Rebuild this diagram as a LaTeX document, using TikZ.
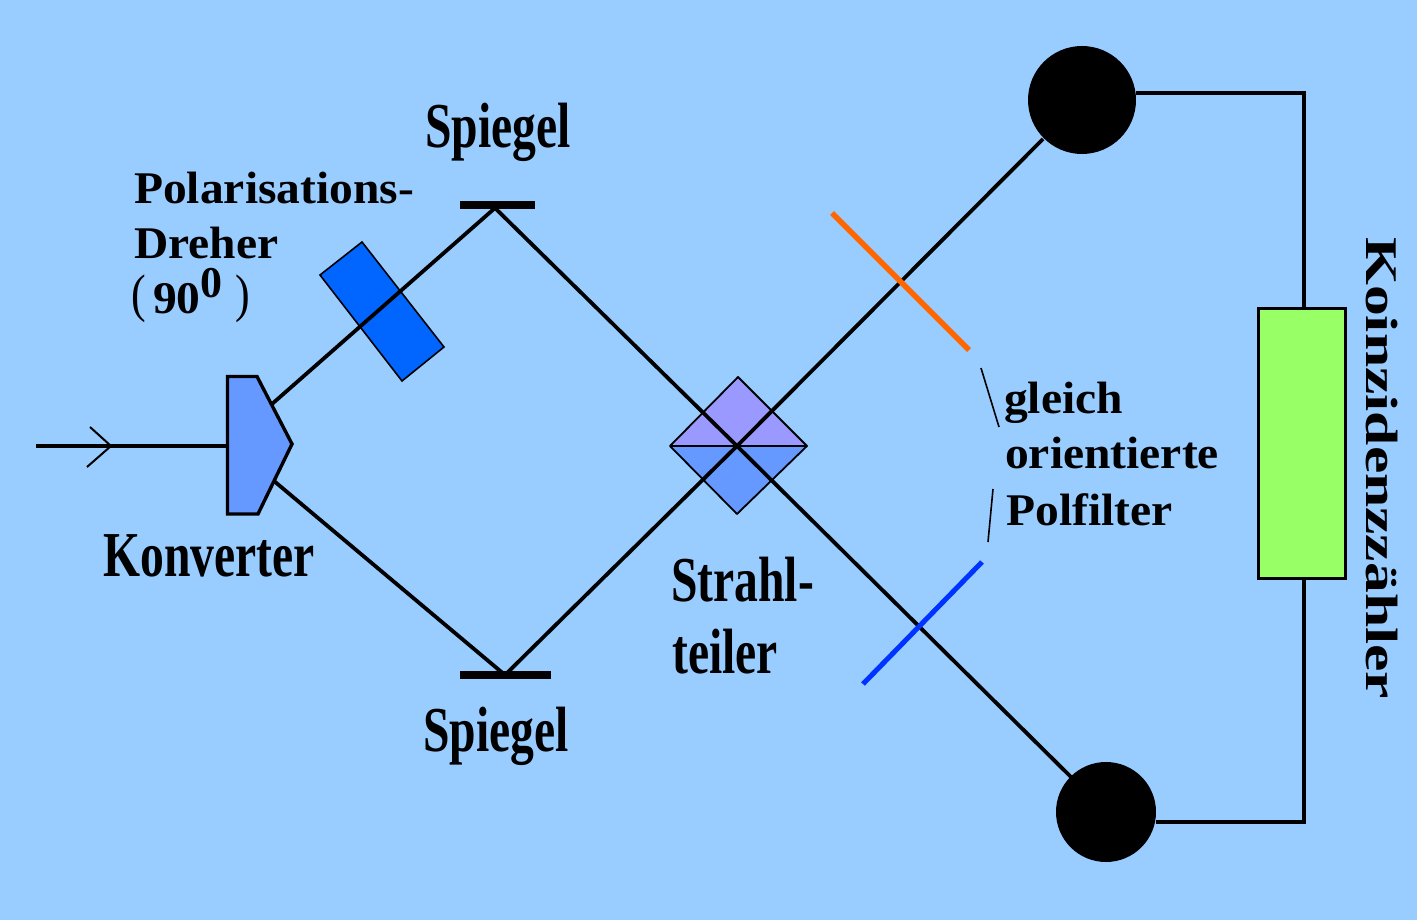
\documentclass[tikz,border=0pt]{standalone}
\usepackage{fontspec}
\usepackage{graphicx}
\setmainfont{Liberation Serif}
\definecolor{bg}{HTML}{99CCFF}
\definecolor{upper}{HTML}{9999FF}
\definecolor{lower}{HTML}{6699FF}
\definecolor{rot}{HTML}{0066FF}
\definecolor{coin}{HTML}{99FF66}
\definecolor{forange}{HTML}{FF6600}
\definecolor{fblue}{HTML}{0033FF}
\tikzset{
 beam/.style={line width=3.8pt,black},
 thin line/.style={line width=1.6pt,black},
 outl/.style={draw=black,line width=2pt,line join=miter},
 lbl/.style={inner sep=0pt,anchor=base west,font=\bfseries,text=black}
}
\newcommand{\tallt}[1]{\scalebox{1.19}[1.6]{\fontsize{40}{40}\selectfont #1}}
\newcommand{\midt}[1]{\scalebox{1.08}[1.03]{\fontsize{44}{44}\selectfont #1}}
\begin{document}
\begin{tikzpicture}[x=1pt,y=-1pt]
\useasboundingbox (0,0) rectangle (1417,920);
\fill[bg] (0,0) rectangle (1417,920);
% points
\coordinate (inL) at (36,446);
\coordinate (inR) at (226,446);
\coordinate (convU) at (272,404);
\coordinate (convD) at (274,481);
\coordinate (mirU) at (495,208);
\coordinate (mirD) at (505,675);
\coordinate (bs) at (737,446);
\coordinate (detUp) at (1043,139);
\coordinate (detDn) at (1072,778);
% beam splitter
\fill[upper] (670,446) -- (738,377) -- (807,446) -- cycle;
\fill[lower] (670,446) -- (737,514) -- (807,446) -- cycle;
\draw[black,line width=1.8pt,line join=round] (670,446) -- (738,377) -- (807,446) -- (737,514) -- cycle (670,446) -- (807,446);
% rotator
\draw[black,line width=1.6pt,fill=rot] (362,242) -- (444,347) -- (402,381) -- (320,275) -- cycle;
% beams
\draw[beam] (inL) -- (inR);
\draw[thin line,line width=2pt] (90,427) -- (111,446) -- (87,467);
\draw[beam] (convU) -- (mirU) -- (bs) -- (detDn);
\draw[beam] (convD) -- (mirD) -- (bs) -- (detUp);
% converter
\draw[outl,line width=3.4pt,fill=lower] (227.5,376.5) -- (257,376.5) -- (292,444) -- (258,514) -- (227.5,514) -- cycle;
% mirrors
\fill[black] (460,201) rectangle (535,209);
\fill[black] (460,671) rectangle (551,679);
% filters
\draw[forange,line width=5.5pt] (832,213) -- (969,350);
\draw[fblue,line width=5pt] (863,684) -- (982,562);
% thin leaders
\coordinate (a1) at (981,368); \coordinate (a2) at (999,427);
\coordinate (b1) at (993,489); \coordinate (b2) at (988,542);
\draw[thin line] (a1) -- (a2);
\draw[thin line] (b1) -- (b2);
% detectors
\node[circle,fill=black,inner sep=0pt,minimum size=108pt] (d1) at (1082,100) {};
\node[circle,fill=black,inner sep=0pt,minimum size=100pt] (d2) at (1106,812) {};
% counter
\node[draw=black,line width=3pt,fill=coin,inner sep=0pt,minimum width=87pt,minimum height=270pt] (cnt) at (1302,443.5) {};
\coordinate (w1) at (1136,93);
\coordinate (w2) at (1156,822);
\coordinate (c1) at (1304,93);
\coordinate (c2) at (1304,822);
\draw[beam] (w1) -- (c1) -- (c1 |- cnt.north);
\draw[beam] (w2) -- (c2) -- (c2 |- cnt.south);
% labels
\node[lbl] (s1) at (425,148) {\tallt{Spiegel}};
\node[lbl] (s2) at (423,751) {\tallt{Spiegel}};
\node[lbl] (k) at (103,576) {\tallt{Konverter}};
\node[lbl] (st1) at (671,601) {\tallt{Strahl-}};
\node[lbl] (st2) at (672,673) {\tallt{teiler}};
\node[lbl] (p1) at (134,204) {\midt{Polarisations-}};
\node[lbl] (p2) at (134,259) {\midt{Dreher}};
\node[lbl] (p3a) at (131,312) {\scalebox{1}[1.2]{\fontsize{44}{44}\selectfont\mdseries (}};
\node[lbl] (p3b) at (153,313) {\midt{90}};
\node[lbl] (p3c) at (200,298) {\scalebox{1}[1]{\fontsize{44}{44}\selectfont 0}};
\node[lbl] (p3d) at (235,312) {\scalebox{1}[1.2]{\fontsize{44}{44}\selectfont\mdseries )}};
\node[lbl] (g1) at (1004,413) {\midt{gleich}};
\node[lbl] (g2) at (1005,468) {\midt{orientierte}};
\node[lbl] (g3) at (1006,525) {\midt{Polfilter}};
\node[inner sep=0pt,anchor=base west,font=\bfseries,rotate=-90] (kz) at (1366,237) {\scalebox{1.4}[1.03]{\fontsize{44}{44}\selectfont Koinzidenzzähler}};
\end{tikzpicture}
\end{document}
